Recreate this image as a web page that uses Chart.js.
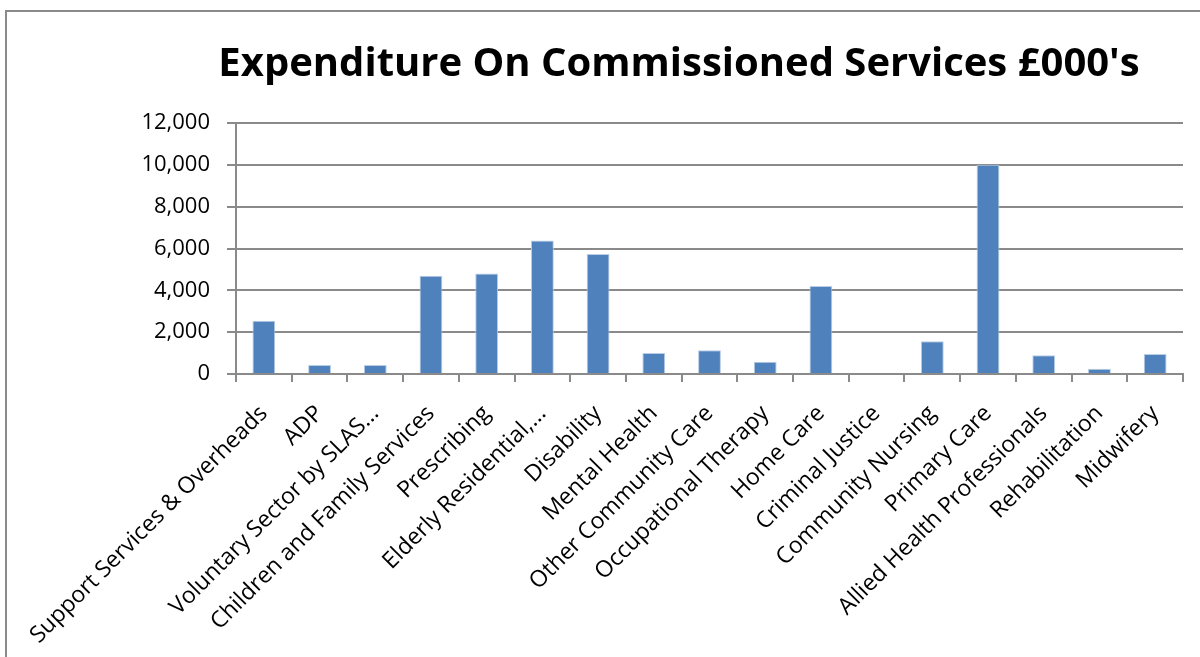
<!DOCTYPE html>
<html>
<head>
<meta charset="utf-8">
<script src="https://cdn.jsdelivr.net/npm/chart.js@4"></script>
<style>
  html, body { margin: 0; padding: 0; background: #fff; overflow: hidden; }
  #wrap { position: absolute; left: 0; top: 0; width: 1200px; height: 657px; }
  #frame { position: absolute; left: 5px; top: 10px; width: 1200px; height: 660px; border: 2px solid #8a8a8a; box-sizing: border-box; }
  canvas { position: absolute; left: 0; top: 0; }
</style>
</head>
<body>
<div id="wrap">
  <div id="frame"></div>
  <canvas id="c" width="1200" height="657"></canvas>
</div>
<script>
const categories = [
  "Support Services & Overheads", "ADP", "Voluntary Sector by SLAS...",
  "Children and Family Services", "Prescribing", "Elderly Residential,...",
  "Disability", "Mental Health", "Other Community Care", "Occupational Therapy",
  "Home Care", "Criminal Justice", "Community Nursing", "Primary Care",
  "Allied Health Professionals", "Rehabilitation", "Midwifery"
];
const expenditure = [2540, 430, 430, 4700, 4800, 6380, 5740, 1000, 1130, 590, 4210, 0, 1560, 10000, 895, 250, 957];
const yTicks = [0, 2000, 4000, 6000, 8000, 10000, 12000];
const titleText = "Expenditure On Commissioned Services £000's";

const FONT = "'Open Sans', 'Noto Sans', sans-serif";
const GRID = '#8a8a8a';

// Title drawn as canvas text, centred like the original chart title
const titlePlugin = {
  id: 'centredTitle',
  afterDraw(chart) {
    const ctx = chart.ctx;
    ctx.save();
    ctx.font = "bold 40px " + FONT;
    ctx.fillStyle = '#000';
    ctx.textAlign = 'center';
    ctx.textBaseline = 'middle';
    ctx.fillText(titleText, 679, 65);
    ctx.restore();
  }
};

new Chart(document.getElementById('c'), {
  type: 'bar',
  data: {
    labels: categories,
    datasets: [{
      data: expenditure,
      backgroundColor: '#4F81BD',
      borderColor: '#B9CDE5',
      borderWidth: 1,
      categoryPercentage: 1,
      barPercentage: 0.41
    }]
  },
  plugins: [titlePlugin],
  options: {
    responsive: false,
    animation: false,
    devicePixelRatio: 1,
    layout: { padding: { left: 100, right: 17, top: 123, bottom: 0 } },
    plugins: {
      legend: { display: false },
      tooltip: { enabled: false },
      title: { display: false }
    },
    scales: {
      x: {
        grid: { display: true, drawOnChartArea: false, drawTicks: true, tickLength: 8, color: GRID, lineWidth: 2, offset: true },
        border: { display: true, color: GRID, width: 2 },
        ticks: {
          autoSkip: false, maxRotation: 45, minRotation: 45, color: '#000',
          font: { family: FONT, size: 23 }, padding: 18
        },
        afterFit: s => { s.height = 283; }
      },
      y: {
        min: 0, max: 12000,
        afterBuildTicks: s => { s.ticks = yTicks.map(v => ({ value: v })); },
        grid: { color: GRID, lineWidth: 2, tickLength: 9, drawTicks: true },
        border: { display: true, color: GRID, width: 2 },
        ticks: {
          color: '#000', padding: 17,
          font: { family: FONT, size: 22 },
          callback: v => v.toLocaleString('en-GB')
        },
        afterFit: s => { s.width = 136; }
      }
    }
  }
});
</script>
</body>
</html>
